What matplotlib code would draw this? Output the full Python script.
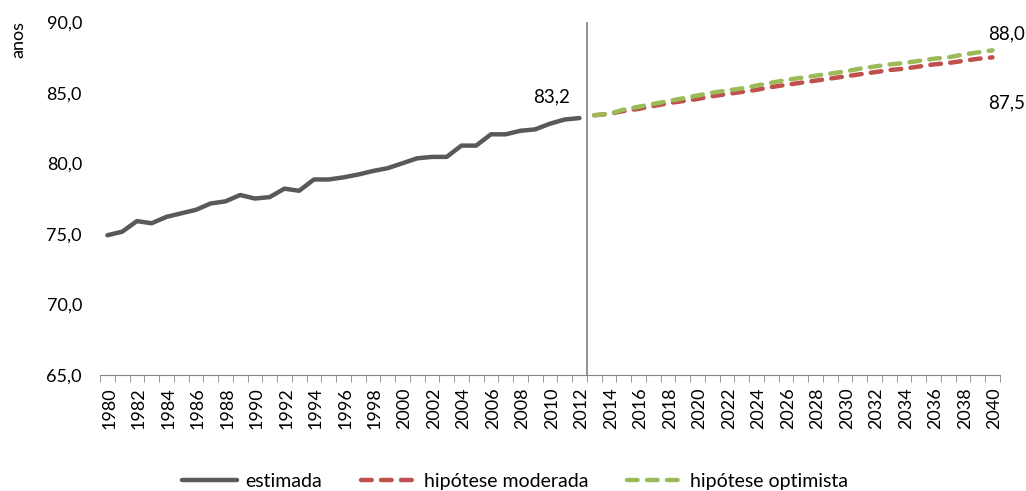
import matplotlib.pyplot as plt
import matplotlib.ticker as mticker
import matplotlib.transforms as mtrans

plt.rcParams['font.family'] = ['Lato', 'DejaVu Sans']

# esperança de vida estimada 1980-2012
anos_est = list(range(1980, 2013))
estimada = [74.9, 75.15, 75.9, 75.75, 76.2, 76.45, 76.7, 77.15, 77.3, 77.75,
            77.5, 77.6, 78.2, 78.05, 78.85, 78.85, 79.0, 79.2, 79.45, 79.65,
            80.0, 80.35, 80.45, 80.45, 81.25, 81.25, 82.05, 82.05, 82.3, 82.4,
            82.8, 83.1, 83.2]

# projeções 2013-2040
anos_proj = list(range(2013, 2041))
moderada = [83.4, 83.5, 83.7, 83.85, 84.05, 84.25, 84.4, 84.55, 84.75, 84.9,
            85.05, 85.2, 85.4, 85.55, 85.7, 85.85, 86.0, 86.15, 86.3, 86.45,
            86.6, 86.7, 86.85, 87.0, 87.1, 87.25, 87.4, 87.5]
optimista = [83.4, 83.5, 83.8, 84.0, 84.2, 84.4, 84.6, 84.8, 85.0, 85.15,
             85.3, 85.5, 85.7, 85.9, 86.05, 86.2, 86.35, 86.5, 86.7, 86.85,
             87.0, 87.1, 87.25, 87.4, 87.5, 87.7, 87.85, 88.0]

fig = plt.figure(figsize=(10.26, 4.91), dpi=100)
ax = fig.add_axes([0.0975, 0.2363, 0.877, 0.7187])

ax.plot(anos_est, estimada, color="#595959", lw=3.2, solid_capstyle="round", label="estimada")
ax.plot(anos_proj, moderada, color="#C0504D", lw=3.2, ls=(0, (2.4, 2.1)), dash_capstyle="round",
        label="hipótese moderada")
ax.plot(anos_proj, optimista, color="#9BBB59", lw=3.2, ls=(0, (2.4, 2.1)), dash_capstyle="round",
        label="hipótese optimista")

ax.axvline(2012.5, color="#808080", lw=1.2)

ax.set_xlim(1979.5, 2040.5)
ax.set_ylim(65, 90)
ax.yaxis.set_major_locator(mticker.MultipleLocator(5))
ax.yaxis.set_major_formatter(mticker.FuncFormatter(lambda v, p: f"{v:.1f}".replace(".", ",")))

anos_lab = list(range(1980, 2041, 2))
ax.set_xticks(anos_lab)
ax.set_xticklabels([str(a) for a in anos_lab], rotation=90)
ax.set_xticks([a - 0.5 for a in range(1980, 2042)], minor=True)
ax.tick_params(axis="x", which="major", length=0, labelsize=13, pad=9)
ax.tick_params(axis="x", which="minor", length=5, color="#868686", direction="out")
ax.tick_params(axis="y", length=0, labelsize=13, pad=13)
desloc = mtrans.ScaledTranslation(2 / 100, 0, fig.dpi_scale_trans)
for lab in ax.get_xticklabels():
    lab.set_transform(lab.get_transform() + desloc)

for s in ["top", "right", "left"]:
    ax.spines[s].set_visible(False)
ax.spines["bottom"].set_color("#868686")

fig.text(0.018, 0.92, "anos", rotation=90, fontsize=13, ha="center", va="center")

ax.annotate("83,2", (anos_est[-1], estimada[-1]), xytext=(-20, 15), textcoords="offset points",
            ha="center", va="center", fontsize=13.5)
ax.annotate("88,0", (anos_proj[-1], optimista[-1]), xytext=(10, 12), textcoords="offset points",
            ha="center", va="center", fontsize=13.5)
ax.annotate("87,5", (anos_proj[-1], moderada[-1]), xytext=(10, -33), textcoords="offset points",
            ha="center", va="center", fontsize=13.5)

leg = fig.legend(loc="center", bbox_to_anchor=(0.502, 0.02), ncol=3, frameon=False,
                 fontsize=14, handlelength=2.85, columnspacing=2.0, handletextpad=0.4)

fig.savefig("out.png", dpi=100)
